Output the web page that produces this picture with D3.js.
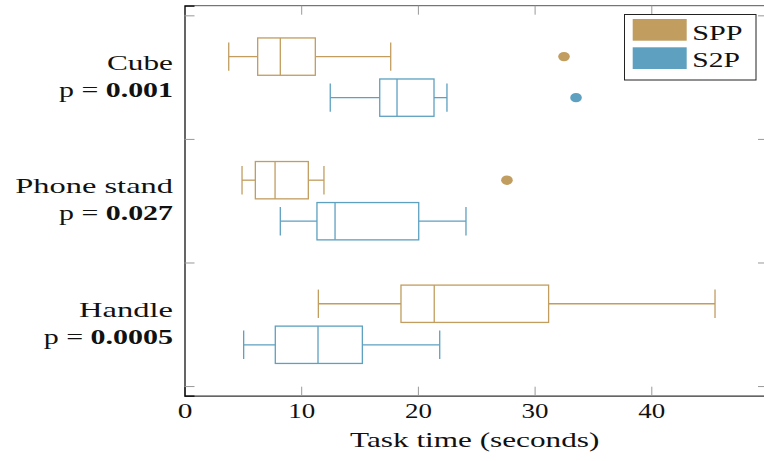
<!DOCTYPE html>
<html>
<head>
<meta charset="utf-8">
<script src="https://cdn.jsdelivr.net/npm/d3@7"></script>
<style>
  html, body { margin: 0; padding: 0; background: #fff; }
  svg { display: block; font-family: "Liberation Serif", "DejaVu Serif", serif; }
</style>
</head>
<body>
<svg id="chart" width="764" height="461"></svg>
<script>
// ---- data ----
const categories = ["Cube", "Phone stand", "Handle"];
const pValues = ["0.001", "0.027", "0.0005"];
const seriesNames = ["SPP", "S2P"];
const seriesColors = ["#C19D5F", "#5DA0C0"];
// [lower whisker, Q1, median, Q3, upper whisker]
const sppStats = [
  [3.79, 6.27, 8.21, 11.21, 17.67],
  [4.93, 6.07, 7.76, 10.61, 11.95],
  [11.47, 18.55, 21.4, 31.2, 45.46]
];
const s2pStats = [
  [12.49, 16.73, 18.21, 21.38, 22.49],
  [8.21, 11.35, 12.9, 20.07, 24.12],
  [5.07, 7.78, 11.44, 15.24, 21.87]
];
const sppOutliers = [[32.52], [27.63], []];
const s2pOutliers = [[33.55], [], []];
const xTicks = [0, 10, 20, 30, 40];
const yTicks = [0.5, 1.5, 2.5, 3.5];

// ---- layout ----
const svg = d3.select("#chart");
const x = d3.scaleLinear().domain([0, 50]).range([184.5, 768]);
const y = d3.scaleLinear().domain([0.422, 3.578]).range([5.7, 395.7]);
const x0 = x.range()[0], x1 = x.range()[1];
const y0 = y.range()[0], y1 = y.range()[1];

const offset = 0.166, halfBox = 0.151, halfCap = 0.115;
const statsBySeries = [sppStats, s2pStats];
const outliersBySeries = [sppOutliers, s2pOutliers];
const FS = 21;

// stretch a text horizontally (about its anchor x) to a target width
function fitWidth(sel, target) {
  sel.each(function () {
    const node = this;
    const w = node.getBBox().width;
    if (!w) return;
    const ax = +node.getAttribute("x") || 0;
    const sx = target / w;
    node.setAttribute("transform", `translate(${ax},0) scale(${sx},1) translate(${-ax},0)`);
  });
}

// frame
svg.append("line").attr("x1", x0).attr("x2", x1).attr("y1", y0).attr("y2", y0)
  .attr("stroke", "#555").attr("stroke-width", 1);
svg.append("line").attr("x1", x1).attr("x2", x1).attr("y1", y0).attr("y2", y1)
  .attr("stroke", "#555").attr("stroke-width", 1);

// bottom axis
const xAxis = d3.axisBottom(x).tickValues(xTicks).tickSize(-9).tickPadding(7).tickFormat(d3.format("d"));
const gx = svg.append("g").attr("transform", `translate(0,${y1})`).call(xAxis);
gx.select(".domain").attr("stroke", "#333").attr("stroke-width", 1.2);
gx.selectAll(".tick line").attr("stroke", "#999");
gx.selectAll(".tick text").attr("font-size", FS).attr("fill", "#111")
  .attr("font-family", "Liberation Serif, serif")
  .each(function (d) { fitWidth(d3.select(this), d === 0 ? 14.7 : 27); });

// top ticks
const gxt = svg.append("g").attr("transform", `translate(0,${y0})`)
  .call(d3.axisTop(x).tickValues(xTicks).tickSize(-9).tickFormat(""));
gxt.select(".domain").remove();
gxt.selectAll(".tick line").attr("stroke", "#999");

// left axis
const gyl = svg.append("g").attr("transform", `translate(${x0},0)`)
  .call(d3.axisLeft(y).tickValues(yTicks).tickSize(-10).tickFormat(""));
gyl.select(".domain").attr("stroke", "#000").attr("stroke-width", 1.2);
gyl.selectAll(".tick line").attr("stroke", "#999");

// right ticks
const gyr = svg.append("g").attr("transform", `translate(${x1},0)`)
  .call(d3.axisRight(y).tickValues(yTicks).tickSize(-10).tickFormat(""));
gyr.select(".domain").remove();
gyr.selectAll(".tick line").attr("stroke", "#999");

// category labels
const catWidths = [66, 158.5, 94];
const pWidths = [114, 114, 129.4];
categories.forEach((c, i) => {
  const cy = y(i + 1);
  const t1 = svg.append("text").attr("x", 173).attr("y", cy - 7.6).attr("text-anchor", "end")
    .attr("font-size", FS).attr("fill", "#111").text(c);
  fitWidth(t1, catWidths[i]);
  const t = svg.append("text").attr("x", 173).attr("y", cy + 19.7).attr("text-anchor", "end")
    .attr("font-size", FS).attr("fill", "#111");
  t.append("tspan").text("p = ");
  t.append("tspan").attr("font-weight", "bold").text(pValues[i]);
  fitWidth(t, pWidths[i]);
});

// boxes
seriesNames.forEach((s, si) => {
  const color = seriesColors[si];
  const g = svg.append("g");
  statsBySeries[si].forEach((st, i) => {
    const c = i + 1 + (si === 0 ? -offset : offset);
    const [lo, q1, med, q3, hi] = st;
    const yc = y(c), yt = y(c - halfBox), yb = y(c + halfBox);
    const ct = y(c - halfCap), cb = y(c + halfCap);
    const line = (xa, xb, ya, yb2) => g.append("line").attr("x1", xa).attr("x2", xb)
      .attr("y1", ya).attr("y2", yb2).attr("stroke", color).attr("stroke-width", 1.3);
    line(x(lo), x(q1), yc, yc);
    line(x(q3), x(hi), yc, yc);
    line(x(lo), x(lo), ct, cb);
    line(x(hi), x(hi), ct, cb);
    g.append("rect").attr("x", x(q1)).attr("y", yt).attr("width", x(q3) - x(q1))
      .attr("height", yb - yt).attr("fill", "none").attr("stroke", color).attr("stroke-width", 1.3);
    line(x(med), x(med), yt, yb);
    outliersBySeries[si][i].forEach(v => {
      g.append("ellipse").attr("cx", x(v)).attr("cy", yc).attr("rx", 5.8).attr("ry", 4.7)
        .attr("fill", color);
    });
  });
});

// x label
const xl = svg.append("text").attr("x", 474.7).attr("y", 446.7).attr("text-anchor", "middle")
  .attr("font-size", 22).attr("fill", "#111").text("Task time (seconds)");
fitWidth(xl, 249.3);

// legend
const lg = svg.append("g");
lg.append("rect").attr("x", 624.5).attr("y", 14.5).attr("width", 131.5).attr("height", 65.5)
  .attr("fill", "#fff").attr("stroke", "#222").attr("stroke-width", 1);
const legWidths = [50.4, 47.7];
seriesNames.forEach((s, si) => {
  lg.append("rect").attr("x", 632.7).attr("y", 19 + si * 28.3).attr("width", 54).attr("height", 21.7)
    .attr("fill", seriesColors[si]);
  const lt = lg.append("text").attr("x", 692.3).attr("y", 40 + si * 26.7).attr("font-size", 22)
    .attr("fill", "#111").text(s);
  fitWidth(lt, legWidths[si]);
});
</script>
</body>
</html>
